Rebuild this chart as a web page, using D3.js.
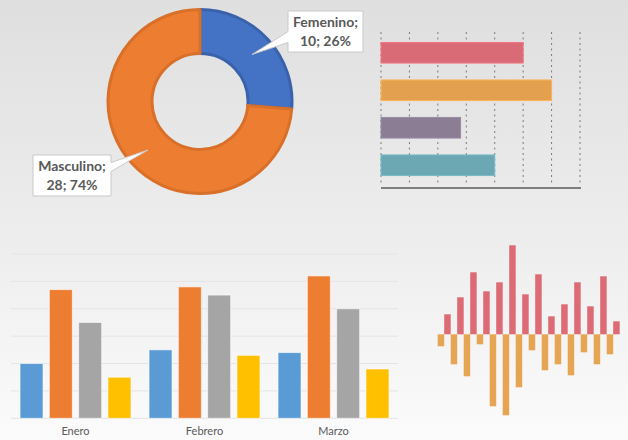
<!DOCTYPE html>
<html>
<head>
<meta charset="utf-8">
<script src="https://cdn.jsdelivr.net/npm/d3@7"></script>
<style>
  body { margin: 0; background: #fff; }
  svg { display: block; }
  text { font-family: Lato, "Open Sans", sans-serif; }
</style>
</head>
<body>
<div id="chart"></div>
<script>
// donut
const genders = ["Femenino", "Masculino"];
const genderCounts = [10, 28];
const genderColors = ["#4472c4", "#ed7d31"];
const genderStrokes = ["#3a62ab", "#d8702a"];

// horizontal bars
const hbarCats = ["A", "B", "C", "D"];
const hbarValues = [5, 6, 2.8, 4];
const hbarColors = ["#d96b76", "#e3a14f", "#8a7d94", "#6ba8b4"];
const hbarTicks = [0, 1, 2, 3, 4, 5, 6, 7];

// grouped bars
const months = ["Enero", "Febrero", "Marzo"];
const seriesNames = ["S1", "S2", "S3", "S4"];
const monthValues = [
    [2.0, 4.7, 3.5, 1.5],
    [2.5, 4.8, 4.5, 2.3],
    [2.4, 5.2, 4.0, 1.8]
];
const seriesColors = ["#5b9bd5", "#ed7d31", "#a5a5a5", "#ffc000"];
const groupTicks = [0, 1, 2, 3, 4, 5, 6];

// diverging bars
const waveIdx = d3.range(14);
const waveUp = [2.0, 3.7, 6.2, 4.3, 5.2, 8.9, 4.0, 6.0, 1.8, 3.0, 5.2, 2.8, 5.8, 1.3];
const waveDown = [-1.2, -3.0, -4.2, -1.0, -7.2, -8.1, -5.3, -1.6, -3.6, -3.0, -4.1, -1.8, -3.0, -2.0];

const W = 628, H = 440;
const svg = d3.select("#chart").append("svg")
    .attr("width", W)
    .attr("height", H);

// background gradient
const grad = svg.append("defs").append("linearGradient")
    .attr("id", "bg").attr("x1", 0).attr("y1", 0).attr("x2", 0).attr("y2", 1);
grad.append("stop").attr("offset", "0%").attr("stop-color", "#dfdfdf");
grad.append("stop").attr("offset", "50%").attr("stop-color", "#ececec");
grad.append("stop").attr("offset", "100%").attr("stop-color", "#fbfbfb");
svg.append("rect").attr("width", W).attr("height", H).attr("fill", "url(#bg)");

// ---- donut ----
const pie = d3.pie().sort(null);
const arc = d3.arc().innerRadius(48).outerRadius(92);
const donut = svg.append("g").attr("transform", "translate(200,101.5)");
donut.selectAll("path")
    .data(pie(genderCounts))
    .enter().append("path")
    .attr("d", arc)
    .attr("fill", (d, i) => genderColors[i])
    .attr("stroke", (d, i) => genderStrokes[i])
    .attr("stroke-width", 3)
    .attr("stroke-linejoin", "round");

const total = d3.sum(genderCounts);
const callouts = [
    { path: "M288,11 H363 V52 H288 V42.5 L252,54.5 L288,31.5 Z", cx: 325.5, y1: 27, y2: 46 },
    { path: "M33,155 H111 V162.5 L148,150 L111,171.5 V196 H33 Z", cx: 72, y1: 171, y2: 190 }
];
callouts.forEach((c, i) => {
    svg.append("path").attr("d", c.path)
        .attr("fill", "#ffffff").attr("stroke", "#c9c9c9").attr("stroke-width", 1);
    svg.append("text").attr("x", c.cx).attr("y", c.y1)
        .attr("text-anchor", "middle").attr("font-size", 14).attr("font-weight", "bold")
        .attr("fill", "#595959").text(genders[i] + ";");
    svg.append("text").attr("x", c.cx).attr("y", c.y2)
        .attr("text-anchor", "middle").attr("font-size", 14).attr("font-weight", "bold")
        .attr("fill", "#595959")
        .text(genderCounts[i] + "; " + Math.round(genderCounts[i] / total * 100) + "%");
});

// ---- horizontal bars ----
const hx = d3.scaleLinear().domain([0, 7]).range([381, 580]);
const hy = d3.scaleBand().domain(hbarCats).range([34, 184]).paddingInner(0.45).paddingOuter(0.225);
svg.append("g").selectAll("line")
    .data(hbarTicks)
    .enter().append("line")
    .attr("x1", d => hx(d)).attr("x2", d => hx(d))
    .attr("y1", 32).attr("y2", 186)
    .attr("stroke", "#7a7a7a").attr("stroke-width", 1)
    .attr("stroke-dasharray", "2,3.5");
svg.append("g").selectAll("rect")
    .data(hbarValues)
    .enter().append("rect")
    .attr("x", hx(0))
    .attr("y", (d, i) => hy(hbarCats[i]))
    .attr("width", d => hx(d) - hx(0))
    .attr("height", hy.bandwidth())
    .attr("fill", (d, i) => hbarColors[i])
    .attr("stroke", (d, i) => d3.color(hbarColors[i]).brighter(0.3))
    .attr("stroke-width", 1);
svg.append("line")
    .attr("x1", hx(0)).attr("x2", hx(7) + 1)
    .attr("y1", 188).attr("y2", 188)
    .attr("stroke", "#7f7f7f").attr("stroke-width", 2);

// ---- grouped bars ----
const gx0 = d3.scaleBand().domain(months).range([11, 398]).paddingInner(0.14).paddingOuter(0.07);
const gx1 = d3.scaleBand().domain(seriesNames).range([0, gx0.bandwidth()]).paddingInner(0.215);
const gy = d3.scaleLinear().domain([0, 6]).range([418.3, 254]);
svg.append("g").selectAll("line")
    .data(groupTicks)
    .enter().append("line")
    .attr("x1", 11).attr("x2", 398)
    .attr("y1", d => gy(d)).attr("y2", d => gy(d))
    .attr("stroke", "#e4e4e4").attr("stroke-width", 1);
const groups = svg.append("g").selectAll("g")
    .data(months)
    .enter().append("g")
    .attr("transform", d => `translate(${gx0(d)},0)`);
groups.selectAll("rect")
    .data((d, i) => monthValues[i])
    .enter().append("rect")
    .attr("x", (d, j) => gx1(seriesNames[j]))
    .attr("y", d => gy(d))
    .attr("width", gx1.bandwidth())
    .attr("height", d => gy(0) - gy(d))
    .attr("fill", (d, j) => seriesColors[j])
    .attr("stroke", "#ffffff").attr("stroke-opacity", 0.6).attr("stroke-width", 1);
const xAxis = svg.append("g")
    .attr("transform", "translate(0,418.3)")
    .call(d3.axisBottom(gx0).tickSize(0).tickPadding(9));
xAxis.select(".domain").remove();
xAxis.selectAll("text")
    .attr("font-family", "Lato, 'Open Sans', sans-serif")
    .attr("font-size", 11)
    .attr("fill", "#595959");

// ---- diverging bars ----
const wx0 = d3.scaleBand().domain(waveIdx).range([437.7, 619.7]).padding(0);
const wx1 = d3.scaleBand().domain(["down", "up"]).range([0, wx0.bandwidth()]);
const wy = d3.scaleLinear().domain([-9, 9]).range([424.3, 244.3]);
const wave = svg.append("g");
wave.selectAll(".up")
    .data(waveUp)
    .enter().append("rect")
    .attr("class", "up")
    .attr("x", (d, i) => wx0(i) + wx1("up"))
    .attr("y", d => wy(d))
    .attr("width", wx1.bandwidth())
    .attr("height", d => wy(0) - wy(d))
    .attr("fill", "#dc6b76");
wave.selectAll(".down")
    .data(waveDown)
    .enter().append("rect")
    .attr("class", "down")
    .attr("x", (d, i) => wx0(i) + wx1("down"))
    .attr("y", wy(0))
    .attr("width", wx1.bandwidth())
    .attr("height", d => wy(d) - wy(0))
    .attr("fill", "#e6a552");
</script>
</body>
</html>
